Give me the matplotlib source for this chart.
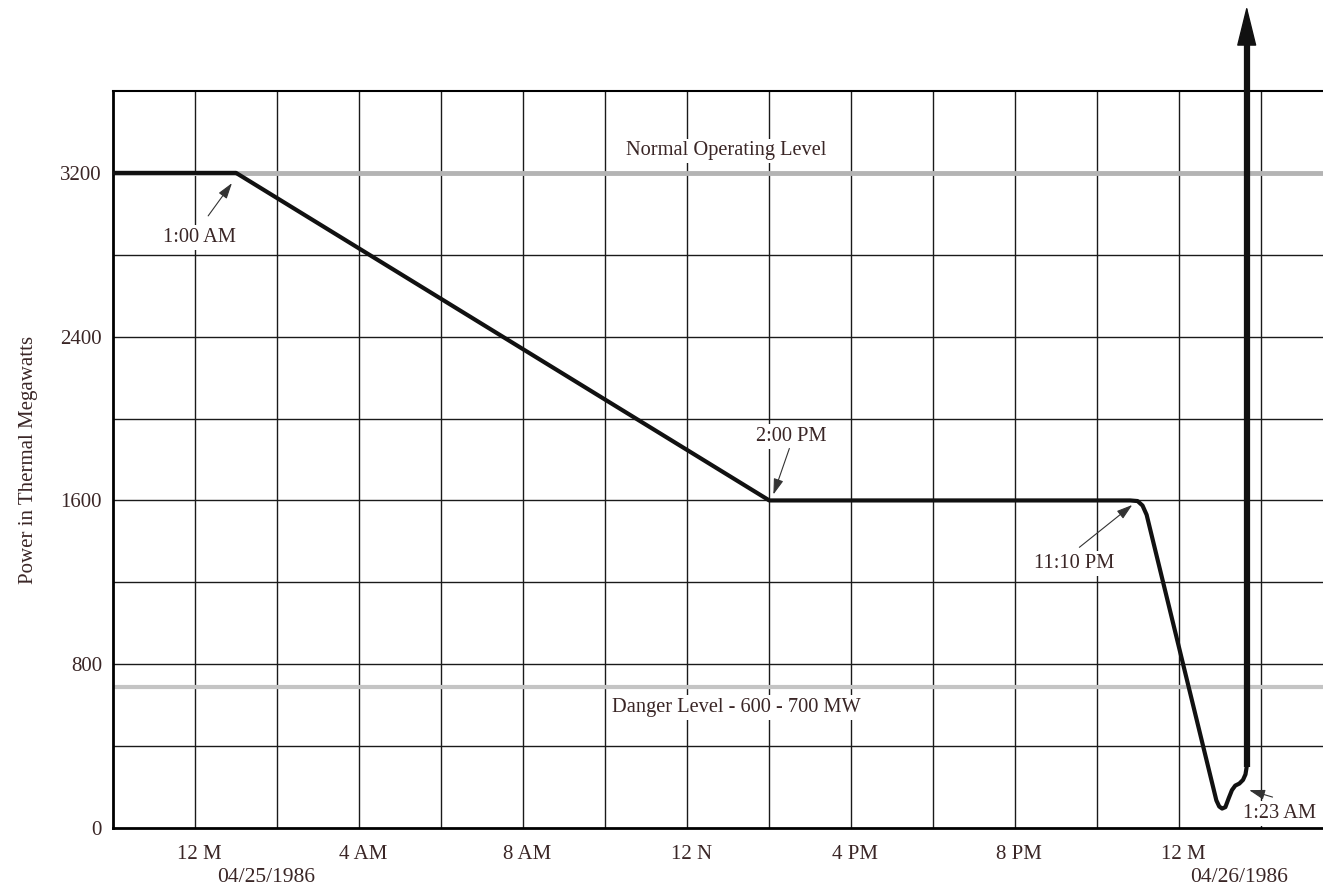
import matplotlib.pyplot as plt
import matplotlib.transforms as mtransforms

# DATA (hours from midnight 04/25/1986, power in MW)
hours = [-2, 1.0, 14.0, 22.8, 22.98, 23.1, 23.2, 24.9, 24.97, 25.04, 25.12,
         25.2, 25.28, 25.36, 25.46, 25.55, 25.61, 25.64]
power = [3200, 3200, 1600, 1600, 1597, 1575, 1530, 135, 105, 95, 102,
         145, 185, 207, 217, 235, 262, 300]
surge_hour = 25.64
surge_top = 4015

tick_hours = [0, 4, 8, 12, 16, 20, 24]
tick_labels = ["12 M", "4 AM", "8 AM", "12 N", "4 PM", "8 PM", "12 M"]
y_ticks = [0, 800, 1600, 2400, 3200]

normal_level = 3200
danger_level = 690

# (label, text position, arrow tail, arrow head)
notes = [
    ("1:00 AM", (0.1, 2883), (0.32, 2990), (0.9, 3150)),
    ("2:00 PM", (14.54, 1912), (14.49, 1854), (14.1, 1629)),
    ("11:10 PM", (21.44, 1293), (21.56, 1371), (22.85, 1578)),
    ("1:23 AM", (26.44, 72), (26.27, 151), (25.7, 185)),
]

txt = '#3a2626'
plt.rcParams['font.family'] = ['Liberation Serif', 'DejaVu Serif']

fig = plt.figure(figsize=(13.23, 8.89), dpi=100)
ax = fig.add_axes([113 / 1323, 61 / 889, 1 - 113 / 1323, 737 / 889])
ax.set_xlim(-2, 27.5)
ax.set_ylim(0, 3600)

# grid
for h in range(0, 28, 2):
    ax.axvline(h, color='#1a1a1a', lw=1.0, zorder=1)
for v in range(400, 3600, 400):
    ax.axhline(v, color='#1a1a1a', lw=1.0, zorder=1)

# reference levels
ax.axhline(normal_level, color='#b4b4b4', lw=3.5, zorder=2)
ax.axhline(danger_level, color='#c4c4c4', lw=3.0, zorder=2)

box = dict(facecolor='white', edgecolor='none', pad=2)
ax.text(12.95, 3307, "Normal Operating Level", ha='center', va='center',
        fontsize=14.7, color=txt, bbox=box, zorder=3)
ax.text(13.2, 590, "Danger Level - 600 - 700 MW", ha='center', va='center',
        fontsize=14.7, color=txt, bbox=box, zorder=3)

# power curve
ax.plot(hours, power, color='#111111', lw=3.0, solid_joinstyle='round',
        solid_capstyle='round', zorder=5)
ax.plot([surge_hour, surge_hour], [power[-1], surge_top - 110], color='#111111',
        lw=4.5, solid_capstyle='butt', clip_on=False, zorder=6)
ax.annotate('', xy=(surge_hour, surge_top), xytext=(surge_hour, surge_top - 140),
            arrowprops=dict(arrowstyle='-|>,head_length=1.3,head_width=0.32',
                            lw=1.0, color='#111111', mutation_scale=20,
                            shrinkA=0, shrinkB=0),
            annotation_clip=False, zorder=6)

for label, tpos, tail, head in notes:
    ax.text(tpos[0], tpos[1], label, ha='center', va='center', fontsize=14.7,
            color=txt, bbox=box, zorder=4)
    ax.annotate('', xy=head, xytext=tail,
                arrowprops=dict(arrowstyle='-|>,head_length=0.8,head_width=0.25',
                                lw=0.8, color='#333333', mutation_scale=12,
                                shrinkA=0, shrinkB=0), zorder=4)

# axes
ax.set_xticks(tick_hours)
ax.set_xticklabels(tick_labels)
ax.set_yticks(y_ticks)
ax.tick_params(length=0, labelsize=15, labelcolor=txt, pad=12)
ax.tick_params(axis='y', pad=8)
shift = mtransforms.ScaledTranslation(4 / 100, 0, fig.dpi_scale_trans)
for lab in ax.get_xticklabels():
    lab.set_transform(lab.get_transform() + shift)
ax.text(1.73, -0.067, "04/25/1986", transform=ax.get_xaxis_transform(),
        ha='center', va='center', fontsize=15.5, color=txt)
ax.text(25.45, -0.067, "04/26/1986", transform=ax.get_xaxis_transform(),
        ha='center', va='center', fontsize=15.5, color=txt)
ax.set_ylabel("Power in Thermal Megawatts", fontsize=15, color=txt, labelpad=16)

for side in ['left', 'bottom']:
    ax.spines[side].set_linewidth(2.0)
ax.spines['top'].set_linewidth(1.5)
ax.spines['right'].set_visible(False)

fig.savefig('out.png', dpi=100)
